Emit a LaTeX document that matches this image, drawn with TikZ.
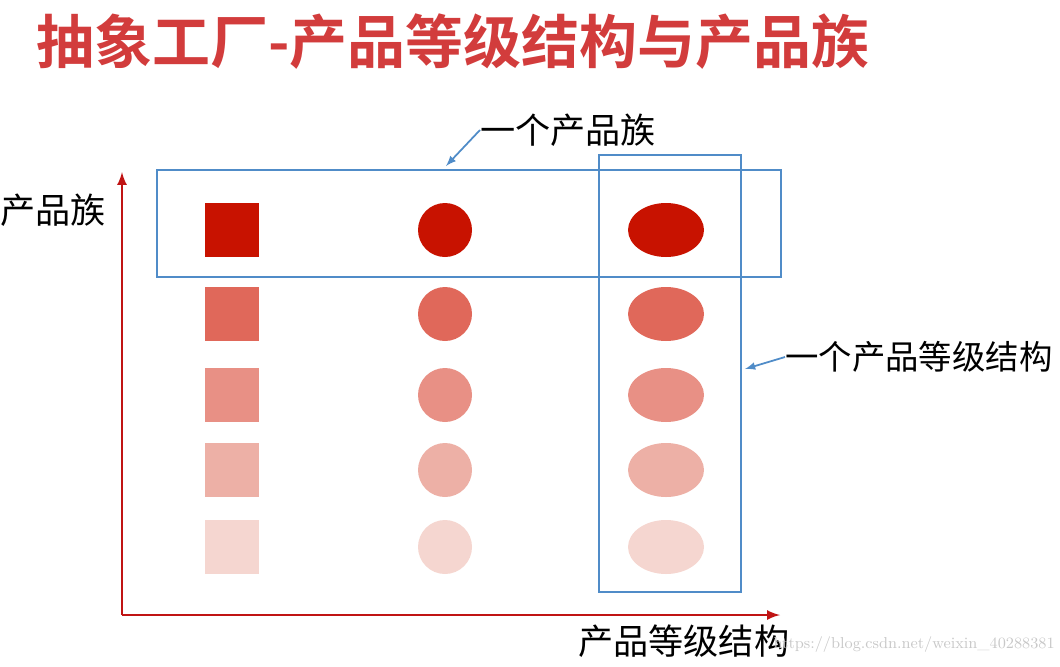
\documentclass[tikz,border=0pt]{standalone}
\usepackage{fontspec}
\newfontfamily\cjk{Noto Sans CJK SC}
\newfontfamily\cjkb{Noto Sans CJK SC Bold}
\begin{document}
\begin{tikzpicture}[x=0.02cm,y=-0.02cm,
  axis/.style={draw={rgb,255:red,192;green,20;blue,20},line width=1.5pt,-latex},
  frame/.style={draw={rgb,255:red,80;green,140;blue,200},line width=1.5pt},
  pointer/.style={draw={rgb,255:red,80;green,140;blue,200},line width=1pt,-latex},
  lbl/.style={font=\cjk\fontsize{20}{24}\selectfont,inner sep=0pt}]
\useasboundingbox (0,0) rectangle (1060,666);
\definecolor{c1}{RGB}{200,18,0}
\definecolor{c2}{RGB}{224,104,90}
\definecolor{c3}{RGB}{232,144,133}
\definecolor{c4}{RGB}{237,176,166}
\definecolor{c5}{RGB}{245,214,208}
\node[anchor=west,inner sep=0pt,text={rgb,255:red,210;green,60;blue,60},font=\cjkb\fontsize{33}{38}\selectfont] (title) at (36,42) {抽象工厂-产品等级结构与产品族};
\coordinate (o) at (122,615);
\coordinate (ytop) at (122,172);
\coordinate (xend) at (780,615);
\draw[axis] (o) -- (ytop);
\draw[axis] (o) -- (xend);
\node[lbl,anchor=west] (ylab) at (0,210) {产品族};
\node[lbl,anchor=west] (xlab) at (578,641) {产品等级结构};
\foreach \c/\y in {c1/230,c2/314,c3/395,c4/470,c5/547}{
  \fill[\c] (205,\y-27) rectangle (259,\y+27);
  \fill[\c] (445,\y) circle[radius=27];
  \fill[\c] (666,\y) ellipse[x radius=38,y radius=27];
}
\node[frame,minimum width=624*0.02cm,minimum height=107*0.02cm,inner sep=0pt] (fam) at (469,223.5) {};
\node[frame,minimum width=142*0.02cm,minimum height=437*0.02cm,inner sep=0pt] (lev) at (670,373.5) {};
\node[lbl,anchor=west] (famlab) at (480,130) {一个产品族};
\node[lbl,anchor=west,font=\cjk\fontsize{19}{23}\selectfont] (levlab) at (785,357) {一个产品等级结构};
\draw[pointer] (famlab.west) -- (446,166);
\draw[pointer] (levlab.west) -- (745,369);
\node[anchor=east,inner sep=0pt,text={rgb,255:red,200;green,200;blue,200},font=\fontsize{9}{11}\selectfont] (wm) at (1055,645) {https://blog.csdn.net/weixin\_40288381};
\end{tikzpicture}
\end{document}
